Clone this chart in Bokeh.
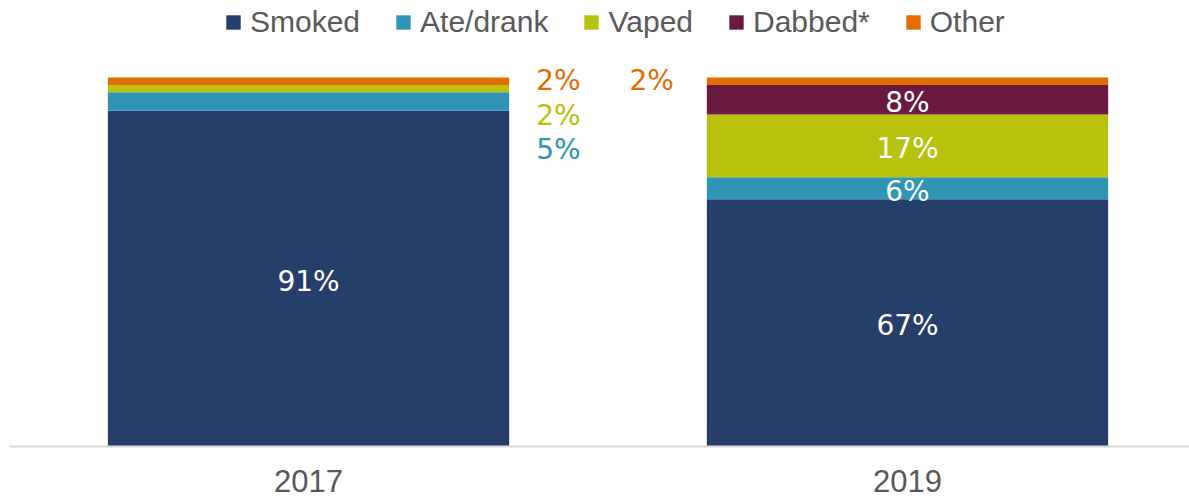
from bokeh.plotting import figure
from bokeh.models import ColumnDataSource, Range1d, FixedTicker, Legend, LegendItem
from bokeh.embed import file_html
from bokeh.resources import INLINE
from bokeh.core.properties import value

# ---- data ----
years = ["2017", "2019"]
methods = ["Smoked", "Ate/drank", "Vaped", "Dabbed*", "Other"]
smoked = [91, 67]
ate_drank = [5, 6]
vaped = [2, 17]
dabbed = [0, 8]
other = [2, 2]

colors = ["#263E6A", "#3095B5", "#B8C10B", "#6A1A40", "#E36D00"]
keys = ["smoked", "ate", "vaped", "dabbed", "other"]
series = [smoked, ate_drank, vaped, dabbed, other]

xs = list(range(len(years)))
bar_w = 0.67

src = ColumnDataSource(dict(x=xs, smoked=smoked, ate=ate_drank, vaped=vaped,
                            dabbed=dabbed, other=other))

p = figure(width=1189, height=499,
           x_range=Range1d(-0.4992, 1.4708), y_range=Range1d(0, 120.9),
           output_backend="svg", toolbar_location=None,
           y_axis_location=None,
           min_border_left=9, min_border_right=0, min_border_top=0, min_border_bottom=53)

renderers = p.vbar_stack(keys, x="x", width=bar_w, color=colors, source=src, line_width=0)

# ---- labels ----
inside = dict(x=[], y=[], t=[])
right = dict(x=[], y=[], t=[], c=[], yo=[])
left = dict(x=[], y=[], t=[], c=[], yo=[])
for i, xv in enumerate(xs):
    base = 0
    mids = []
    for s_i, s in enumerate(series):
        v = s[i]
        mids.append((base + v / 2, v, s_i))
        base += v
    total = base
    outs = []
    for mid, v, s_i in mids:
        if v == 0:
            continue
        if v >= 6:
            inside["x"].append(xv)
            inside["y"].append(mid)
            inside["t"].append(f"{v}%")
        else:
            outs.append((mid, v, s_i))
    outs = outs[::-1]
    for k, (mid, v, s_i) in enumerate(outs):
        d = right if i == 0 else left
        d["x"].append(xv + bar_w / 2 if i == 0 else xv - bar_w / 2)
        d["y"].append(total)
        d["t"].append(f"{v}%")
        d["c"].append(colors[s_i])
        d["yo"].append(3 + 34.5 * k)

lab_font = value("DejaVu Sans")
p.text(x="x", y="y", text="t", source=ColumnDataSource(inside), text_color="white",
       text_font=lab_font, text_font_size="28px", text_align="center",
       text_baseline="middle", y_offset=3)
p.text(x="x", y="y", text="t", source=ColumnDataSource(right), text_color="c",
       text_font=lab_font, text_font_size="28px", text_align="left",
       text_baseline="middle", x_offset=27, y_offset="yo")
p.text(x="x", y="y", text="t", source=ColumnDataSource(left), text_color="c",
       text_font=lab_font, text_font_size="28px", text_align="right",
       text_baseline="middle", x_offset=-33, y_offset="yo")

# ---- legend ----
legend = Legend(items=[LegendItem(label=m, renderers=[r]) for m, r in zip(methods, renderers)],
                orientation="horizontal", location=(215, 407),
                label_text_font="Liberation Sans", label_text_font_size="30px",
                label_text_color="#595959", glyph_width=18, glyph_height=18,
                label_standoff=8, spacing=34, padding=0, margin=0,
                border_line_color=None, background_fill_alpha=0)
p.add_layout(legend)

# ---- axes ----
p.xaxis.ticker = FixedTicker(ticks=xs)
p.xaxis.major_label_overrides = {i: y for i, y in enumerate(years)}
p.xaxis.axis_line_color = "#D9D9D9"
p.xaxis.axis_line_width = 2
p.xaxis.major_tick_line_color = None
p.xaxis.minor_tick_line_color = None
p.xaxis.major_label_text_font = "Liberation Sans"
p.xaxis.major_label_text_font_size = "31px"
p.xaxis.major_label_text_color = "#595959"
p.xaxis.major_label_standoff = 17
p.xgrid.visible = False
p.ygrid.visible = False
p.outline_line_color = None

open("out.html", "w").write(file_html(p, INLINE))
